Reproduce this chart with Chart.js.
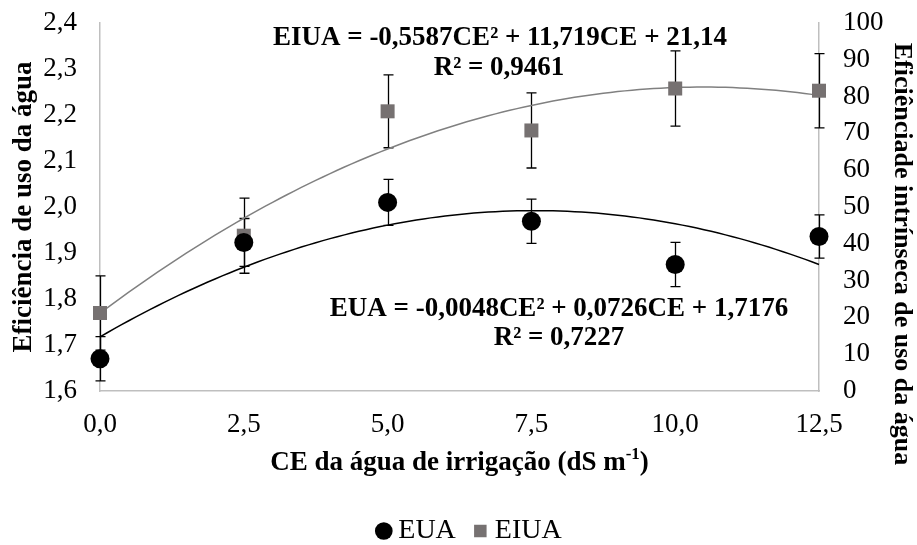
<!DOCTYPE html>
<html lang="pt">
<head>
<meta charset="utf-8">
<title>EUA e EIUA</title>
<script src="https://cdn.jsdelivr.net/npm/chart.js@4.4.1/dist/chart.umd.min.js"></script>
<style>
  html, body { margin: 0; padding: 0; background: #fff; }
  #wrap { width: 917px; height: 545px; position: relative; }
</style>
</head>
<body>
<div id="wrap"><canvas id="eficienciaChart"></canvas></div>
<script>
// níveis de CE da água de irrigação (dS m-1)
const ceLevels = [0, 2.5, 5, 7.5, 10, 12.5];

// eficiência de uso da água (eixo esquerdo)
const euaValues = [1.670, 1.923, 2.010, 1.969, 1.875, 1.936];
const euaErrors = [0.048, 0.052, 0.050, 0.048, 0.048, 0.047];

// eficiência intrínseca de uso da água (eixo direito)
const eiuaValues = [21.2, 42.2, 76.0, 70.8, 82.2, 81.6];
const eiuaErrors = [10.1, 10.2, 9.9, 10.2, 10.2, 10.1];

// coeficientes das regressões (a*CE² + b*CE + c)
const euaCoef = [-0.0048, 0.0726, 1.7176];
const eiuaCoef = [-0.5587, 11.719, 21.14];

const xTicks = [0, 2.5, 5, 7.5, 10, 12.5];
const leftTicks = [1.6, 1.7, 1.8, 1.9, 2.0, 2.1, 2.2, 2.3, 2.4];
const rightTicks = [0, 10, 20, 30, 40, 50, 60, 70, 80, 90, 100];

const SERIF = "'Liberation Serif', 'Times New Roman', serif";
const virgula = (v, d) => v.toFixed(d).replace('.', ',');

function curva(coef) {
  const pts = [];
  for (let ce = 0; ce <= 12.5 + 1e-9; ce += 0.125) {
    pts.push({ x: ce, y: coef[0] * ce * ce + coef[1] * ce + coef[2] });
  }
  return pts;
}

// barras de erro desenhadas antes dos marcadores
const errorBars = {
  id: 'errorBars',
  beforeDatasetsDraw(chart) {
    const ctx = chart.ctx;
    const xs = chart.scales.x;
    ctx.save();
    ctx.strokeStyle = '#000';
    ctx.lineWidth = 1.3;
    chart.data.datasets.forEach(ds => {
      if (!ds.errors) return;
      const ys = chart.scales[ds.yAxisID];
      ds.data.forEach((p, j) => {
        const px = Math.round(xs.getPixelForValue(p.x)) + 0.5;
        const top = ys.getPixelForValue(p.y + ds.errors[j]);
        const bot = ys.getPixelForValue(p.y - ds.errors[j]);
        ctx.beginPath();
        ctx.moveTo(px, top); ctx.lineTo(px, bot);
        ctx.moveTo(px - 5, top); ctx.lineTo(px + 5, top);
        ctx.moveTo(px - 5, bot); ctx.lineTo(px + 5, bot);
        ctx.stroke();
      });
    });
    ctx.restore();
  }
};

// legenda um pouco à direita do centro
const legendaOffset = {
  id: 'legendaOffset',
  afterLayout(chart) {
    if (chart.legend) {
      chart.legend.left += 14;
      chart.legend.right += 14;
    }
  }
};

// títulos dos eixos e equações
const textos = {
  id: 'textos',
  afterDraw(chart) {
    const ctx = chart.ctx;
    const a = chart.chartArea;
    ctx.save();
    ctx.fillStyle = '#000';
    ctx.textBaseline = 'middle';
    ctx.textAlign = 'center';

    ctx.font = 'bold 27px ' + SERIF;
    ctx.fillText('EIUA = -0,5587CE² + 11,719CE + 21,14', 500, 38);
    ctx.fillText('R² = 0,9461', 499, 68);
    ctx.fillText('EUA = -0,0048CE² + 0,0726CE + 1,7176', 559, 309);
    ctx.fillText('R² = 0,7227', 559, 338);

    // eixo x com expoente
    const partA = 'CE da água de irrigação (dS m';
    const sup = '-1';
    const partB = ')';
    ctx.font = 'bold 27px ' + SERIF;
    const wA = ctx.measureText(partA).width;
    const wB = ctx.measureText(partB).width;
    ctx.font = 'bold 17px ' + SERIF;
    const wS = ctx.measureText(sup).width;
    let x0 = (a.left + a.right) / 2 - (wA + wS + wB) / 2;
    ctx.textAlign = 'left';
    ctx.font = 'bold 27px ' + SERIF;
    ctx.fillText(partA, x0, 463);
    ctx.font = 'bold 17px ' + SERIF;
    ctx.fillText(sup, x0 + wA, 455);
    ctx.font = 'bold 27px ' + SERIF;
    ctx.fillText(partB, x0 + wA + wS, 463);

    // eixo y esquerdo
    ctx.textAlign = 'center';
    ctx.save();
    ctx.translate(24, (a.top + a.bottom) / 2);
    ctx.rotate(-Math.PI / 2);
    ctx.fillText('Eficiência de uso da água', 0, 0);
    ctx.restore();

    // eixo y direito
    ctx.font = 'bold 26px ' + SERIF;
    ctx.save();
    ctx.translate(902, 254);
    ctx.rotate(Math.PI / 2);
    ctx.fillText('Eficiênciade intrínseca de uso da água', 0, 0);
    ctx.restore();

    ctx.restore();
  }
};

document.addEventListener('DOMContentLoaded', function() {
  const ctx = document.getElementById('eficienciaChart').getContext('2d');
  const eixoBorda = { display: true, color: '#bfbfbf', width: 1.5 };
  const fonteTicks = { family: SERIF, size: 27 };

  new Chart(ctx, {
    type: 'scatter',
    data: {
      datasets: [
        {
          label: 'EUA',
          data: ceLevels.map((ce, i) => ({ x: ce, y: euaValues[i] })),
          errors: euaErrors,
          yAxisID: 'y',
          pointStyle: 'circle',
          pointRadius: 9.5,
          pointHoverRadius: 9.5,
          backgroundColor: '#000',
          borderColor: '#000',
          borderWidth: 0,
          clip: false,
          order: 0
        },
        {
          label: 'EIUA',
          data: ceLevels.map((ce, i) => ({ x: ce, y: eiuaValues[i] })),
          errors: eiuaErrors,
          yAxisID: 'y1',
          pointStyle: 'rect',
          pointRadius: 9.9,
          pointHoverRadius: 9.9,
          backgroundColor: '#767171',
          borderColor: '#767171',
          borderWidth: 0,
          clip: false,
          order: 0
        },
        {
          label: 'tendência EUA',
          type: 'line',
          data: curva(euaCoef),
          yAxisID: 'y',
          borderColor: '#000',
          borderWidth: 1.5,
          pointRadius: 0,
          fill: false,
          clip: false,
          order: 1
        },
        {
          label: 'tendência EIUA',
          type: 'line',
          data: curva(eiuaCoef),
          yAxisID: 'y1',
          borderColor: '#808080',
          borderWidth: 1.5,
          pointRadius: 0,
          fill: false,
          clip: false,
          order: 1
        }
      ]
    },
    options: {
      responsive: true,
      maintainAspectRatio: false,
      animation: false,
      layout: { padding: { top: 23, left: 0, right: 0, bottom: -10 } },
      plugins: {
        tooltip: { enabled: false },
        legend: {
          position: 'bottom',
          labels: {
            usePointStyle: true,
            boxWidth: 1,
            boxHeight: 12.5,
            padding: 24,
            color: '#000',
            font: { family: SERIF, size: 28 },
            filter: item => item.datasetIndex < 2
          }
        }
      },
      scales: {
        x: {
          type: 'linear',
          min: 0,
          max: 12.5,
          afterBuildTicks: axis => { axis.ticks = xTicks.map(v => ({ value: v })); },
          afterFit: scale => { scale.height = 102; scale.paddingLeft = 0; scale.paddingRight = 0; },
          grid: { display: false, drawTicks: false },
          border: eixoBorda,
          ticks: {
            padding: 18,
            color: '#000',
            font: fonteTicks,
            callback: v => virgula(v, 1)
          }
        },
        y: {
          position: 'left',
          min: 1.6,
          max: 2.4,
          afterBuildTicks: axis => { axis.ticks = leftTicks.map(v => ({ value: v })); },
          afterFit: scale => { scale.width = 100; scale.paddingTop = 0; scale.paddingBottom = 0; },
          grid: { display: false, drawTicks: false },
          border: eixoBorda,
          ticks: {
            padding: 23,
            color: '#000',
            font: fonteTicks,
            callback: v => virgula(v, 1)
          }
        },
        y1: {
          position: 'right',
          min: 0,
          max: 100,
          afterBuildTicks: axis => { axis.ticks = rightTicks.map(v => ({ value: v })); },
          afterFit: scale => { scale.width = 98; scale.paddingTop = 0; scale.paddingBottom = 0; },
          grid: { display: false, drawTicks: false },
          border: eixoBorda,
          ticks: {
            padding: 24,
            color: '#000',
            font: fonteTicks,
            callback: v => String(v)
          }
        }
      }
    },
    plugins: [errorBars, legendaOffset, textos]
  });
});
</script>
</body>
</html>
